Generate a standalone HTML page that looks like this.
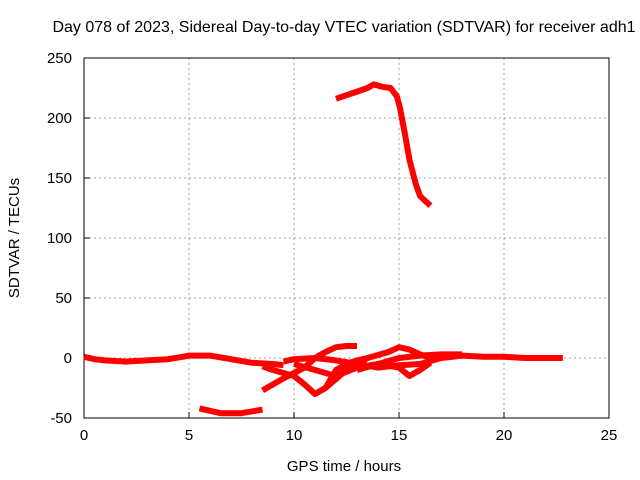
<!DOCTYPE html>
<html><head><meta charset="utf-8"><style>
body{margin:0;background:#fff;}
svg{display:block;font-family:"Liberation Sans",sans-serif;}
</style></head><body>
<svg id="c" width="640" height="480"></svg>
<script>
const xTicks=[0,5,10,15,20,25];
const yTicks=[-50,0,50,100,150,200,250];
const hoursA=[0,0.5,1,2,3,4,4.7,5,6,7,8,9,9.5];
const valsA=[1,-1,-2,-3,-2,-1,1,2,2,-1,-4,-5,-6];
const hoursB=[9.5,10,11,12,13,14,15,16,17,18,19,20,21,22,22.8];
const valsB=[-3,-1,0,-2,-5,-8,-6,-5,0,2,1,1,0,0,0];
const hoursC=[8.5,9,10,10.5,11,11.5,12,12.5,13,13.5];
const valsC=[-7,-10,-15,-22,-30,-25,-10,-5,-2,0];
const hoursD=[8.5,9.5,10.5,11,11.5,12,12.5,13];
const valsD=[-27,-17,-8,0,5,9,10,10];
const hoursE=[10,11,12,13,14,15,15.5,16,16.5];
const valsE=[-5,-10,-15,-8,-5,-8,-15,-10,-4];
const hoursF=[11.5,12.5,13.5,14.5,15,15.5,16,16.5];
const valsF=[-25,-10,0,5,9,7,3,0];
const hoursG=[13,14,15,16,17,18];
const valsG=[-10,-5,0,2,3,3];
const hoursH=[5.5,6.5,7.5,8.5];
const valsH=[-42,-46,-46,-43];
const hoursI=[12,12.5,13,13.5,13.8,14.2,14.6,14.9,15.05,15.3,15.5,15.8,16,16.3,16.5];
const valsI=[216,219,222,225,228,226,225,218,208,185,165,145,135,130,127];
const series=[[hoursA,valsA],[hoursB,valsB],[hoursC,valsC],[hoursD,valsD],[hoursE,valsE],[hoursF,valsF],[hoursG,valsG],[hoursH,valsH],[hoursI,valsI]];
const L=84,R=609,T=58,B=418;
const X=h=>L+(h-0)/25*(R-L);
const Y=v=>B-(v+50)/300*(B-T);
const svg=document.getElementById('c');
const NS='http://www.w3.org/2000/svg';
function mk(t,a){const e=document.createElementNS(NS,t);for(const k in a)e.setAttribute(k,a[k]);svg.appendChild(e);return e;}
xTicks.forEach(t=>{
 if(t>0&&t<25){const g=mk('line',{x1:X(t),x2:X(t),y1:T,y2:B,stroke:'#a0a0a0','stroke-dasharray':'2,3'});
 
 }
 const tk=mk('line',{x1:X(t),x2:X(t),y1:B,y2:B-6,stroke:'#000'});
 
 
 const tx=mk('text',{x:X(t),y:B+22,'text-anchor':'middle','font-size':15});tx.textContent=t;
 
 
});
yTicks.forEach(t=>{
 if(t>-50&&t<250){const g=mk('line',{x1:L,x2:R,y1:Y(t),y2:Y(t),stroke:'#a0a0a0','stroke-dasharray':'2,3'});
 
 }
 const tk=mk('line',{x1:L,x2:L+6,y1:Y(t),y2:Y(t),stroke:'#000'});
 
 
 const tx=mk('text',{x:L-12,y:Y(t)+5,'text-anchor':'end','font-size':15});tx.textContent=t;
 
 
});
const fr=mk('rect',{x:L,y:T,width:R-L,height:B-T,fill:'none',stroke:'#000'});


series.forEach(s=>{
 const d=s[0].map((h,i)=>(i?'L':'M')+X(h).toFixed(1)+','+Y(s[1][i]).toFixed(1)).join(' ');
 const p=mk('path',{d:d,fill:'none',stroke:'#ff0000','stroke-width':6,'stroke-linejoin':'round'});
 
 
});
const t1=mk('text',{x:344,y:32,'text-anchor':'middle','font-size':16});t1.textContent='Day 078 of 2023, Sidereal Day-to-day VTEC variation (SDTVAR) for receiver adh1';


const t2=mk('text',{x:344,y:471,'text-anchor':'middle','font-size':15});t2.textContent='GPS time / hours';


const t3=mk('text',{x:19,y:238,'text-anchor':'middle','font-size':15,transform:'rotate(-90 19 238)'});t3.textContent='SDTVAR / TECUs';


</script>
</body></html>
